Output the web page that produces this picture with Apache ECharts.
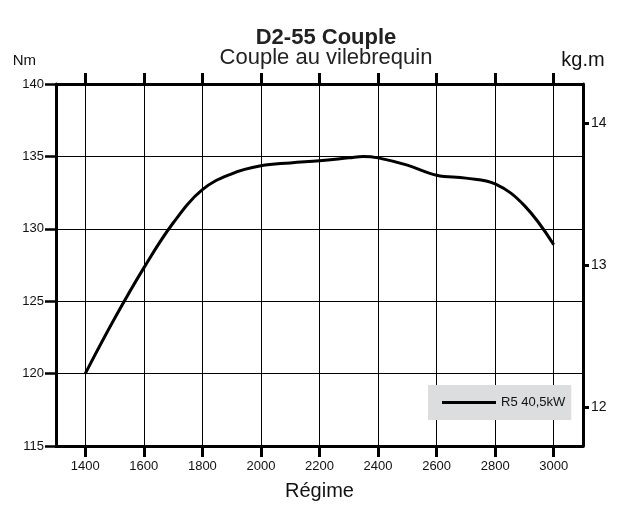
<!DOCTYPE html>
<html>
<head>
<meta charset="utf-8">
<script src="https://cdn.jsdelivr.net/npm/echarts@6/dist/echarts.min.js"></script>
<style>
    html, body { margin: 0; padding: 0; background: #fff; }
    #chart { width: 621px; height: 511px; }
</style>
</head>
<body>
<div id="chart"></div>
<script>
// regime (tr/min) et couple (Nm)
var regime = [1400, 1500, 1600, 1700, 1800, 1900, 2000, 2100, 2200, 2300, 2350, 2400, 2500, 2600, 2700, 2800, 2900, 3000];
var couple = [120.0, 123.8, 127.3, 130.4, 132.7, 133.8, 134.35, 134.55, 134.7, 134.9, 135.0, 134.9, 134.4, 133.7, 133.5, 133.1, 131.6, 128.9];

var xTicks = [1400, 1600, 1800, 2000, 2200, 2400, 2600, 2800, 3000];
var kgmTicks = [12, 13, 14];
var nmMin = 115, nmMax = 140, nmStep = 5;
var xMin = 1300, xMax = 3100;
var g = 9.80665; // 1 kg.m = 9.80665 Nm

var font = "'Liberation Sans', Arial, sans-serif";

var myChart = echarts.init(document.getElementById("chart"));

var data = regime.map(function (r, i) {
    return [r, couple[i]];
});

var option = {
    backgroundColor: "#fff",
    animation: false,
    title: {
        text: "D2-55 Couple",
        subtext: "Couple au vilebrequin",
        left: 321,
        textAlign: "center",
        top: 22,
        itemGap: -2,
        textStyle: {
            fontFamily: font,
            fontSize: 22,
            fontWeight: "bold",
            color: "#222",
        },
        subtextStyle: {
            fontFamily: font,
            fontSize: 22,
            color: "#222",
        },
    },
    legend: {
        left: 428,
        top: 385,
        backgroundColor: "#dcdddf",
        padding: [11, 6, 11, 14],
        itemWidth: 54,
        itemHeight: 3,
        icon: "rect",
        textStyle: {
            fontFamily: font,
            fontSize: 13,
            color: "#111",
        },
        data: ["R5 40,5kW"],
    },
    grid: {
        left: 56,
        right: 38,
        top: 84,
        bottom: 65,
    },
    xAxis: [
        {
            type: "value",
            min: xMin,
            max: xMax,
            name: "Régime",
            nameLocation: "middle",
            nameGap: 35,
            nameTextStyle: {
                fontFamily: font,
                fontSize: 20,
                color: "#111",
                verticalAlign: "top",
            },
            axisLine: { show: true, onZero: false, lineStyle: { color: "#000", width: 3 } },
            axisTick: {
                show: true,
                customValues: xTicks,
                length: 11,
                lineStyle: { color: "#000", width: 3 },
            },
            axisLabel: {
                customValues: xTicks,
                margin: 14,
                fontFamily: font,
                fontSize: 13,
                color: "#111",
                formatter: function (v) {
                    return String(v);
                },
            },
            splitLine: { show: true, lineStyle: { color: "#000", width: 1 } },
        },
        {
            type: "value",
            position: "top",
            min: xMin,
            max: xMax,
            axisLine: { show: true, onZero: false, lineStyle: { color: "#000", width: 3 } },
            axisTick: {
                show: true,
                customValues: xTicks,
                length: 11,
                lineStyle: { color: "#000", width: 3 },
            },
            axisLabel: { show: false },
            splitLine: { show: false },
        },
    ],
    yAxis: [
        {
            type: "value",
            min: nmMin,
            max: nmMax,
            interval: nmStep,
            name: "Nm",
            nameLocation: "end",
            nameGap: 23,
            nameTextStyle: {
                fontFamily: font,
                fontSize: 15,
                color: "#111",
                align: "right",
                verticalAlign: "middle",
                padding: [0, 20, 0, 0],
            },
            axisLine: { show: true, onZero: false, lineStyle: { color: "#000", width: 3 } },
            axisTick: { show: true, length: 11, lineStyle: { color: "#000", width: 2.5 } },
            axisLabel: {
                margin: 12,
                fontFamily: font,
                fontSize: 13,
                color: "#111",
            },
            splitLine: { show: true, lineStyle: { color: "#000", width: 1 } },
        },
        {
            type: "value",
            position: "right",
            min: nmMin / g,
            max: nmMax / g,
            name: "kg.m",
            nameLocation: "end",
            nameGap: 24,
            nameTextStyle: {
                fontFamily: font,
                fontSize: 20,
                color: "#111",
                align: "center",
                verticalAlign: "middle",
            },
            axisLine: { show: true, onZero: false, lineStyle: { color: "#000", width: 3 } },
            axisTick: {
                show: true,
                customValues: kgmTicks,
                length: 6,
                lineStyle: { color: "#000", width: 3 },
            },
            axisLabel: {
                customValues: kgmTicks,
                margin: 8,
                fontFamily: font,
                fontSize: 14,
                color: "#111",
            },
            splitLine: { show: false },
        },
    ],
    series: [
        {
            name: "R5 40,5kW",
            type: "line",
            xAxisIndex: 0,
            yAxisIndex: 0,
            smooth: 0.4,
            showSymbol: false,
            symbol: "none",
            lineStyle: { color: "#000", width: 3 },
            itemStyle: { color: "#000" },
            z: 5,
            data: data,
        },
    ],
};

myChart.setOption(option);
window.addEventListener("resize", function () {
    myChart.resize();
});
</script>
</body>
</html>
